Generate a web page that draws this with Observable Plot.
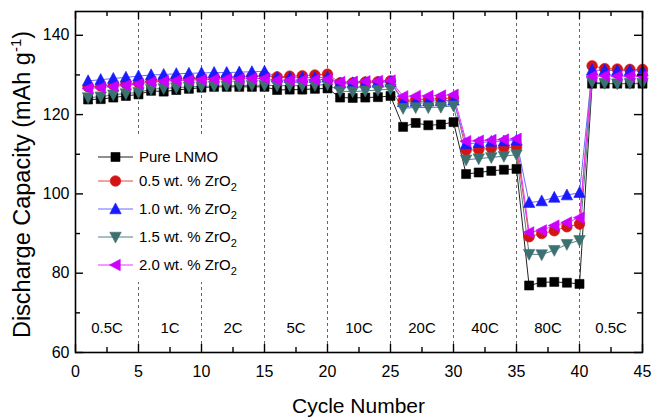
<!DOCTYPE html>
<html><head><meta charset="utf-8">
<script src="https://cdn.jsdelivr.net/npm/d3@7"></script>
<script src="https://cdn.jsdelivr.net/npm/@observablehq/plot@0.6"></script>
<style>body{margin:0;background:#fff}#chart svg{display:block}</style>
</head><body><div id="chart"></div>
<script>
// ---- data ----
const cycles = d3.range(1, 46);
const pureLNMO = [123.8,123.9,124.3,124.7,125.1, 126.0,125.8,126.2,126.5,126.8, 127.0,127.0,127.0,127.0,127.0, 126.2,126.3,126.3,126.5,126.6, 124.3,124.2,124.3,124.4,124.7, 116.9,117.9,117.3,117.5,118.1, 105.0,105.4,105.8,106.1,106.3, 76.9,77.7,77.8,77.6,77.3, 127.8,127.8,127.8,127.8,127.8];
const zr05 = [127.0,127.2,127.5,127.8,128.0, 128.5,128.8,129.0,129.0,129.2, 129.3,129.4,129.5,129.6,129.8, 129.5,129.7,129.8,130.0,130.2, 128.0,128.0,128.2,128.3,128.5, 123.5,123.8,123.9,124.0,124.2, 111.0,111.2,111.5,111.7,111.8, 89.2,90.0,90.7,91.7,92.4, 132.3,131.6,131.5,131.4,131.4];
const zr10 = [128.5,128.8,129.1,129.4,129.7, 130.0,130.1,130.3,130.4,130.5, 130.6,130.6,130.7,130.8,130.9, 129.4,129.3,129.3,129.3,129.4, 127.9,128.0,128.1,128.1,128.2, 123.2,123.3,123.4,123.5,123.6, 112.6,112.9,113.2,113.3,113.5, 97.8,98.2,99.1,99.7,100.3, 131.2,131.2,131.1,131.1,131.0];
const zr15 = [124.3,124.5,125.0,125.3,125.6, 126.4,126.6,126.8,127.0,127.1, 127.2,127.3,127.3,127.4,127.4, 127.3,127.3,127.3,127.4,127.6, 125.9,125.8,126.0,126.2,126.4, 121.6,121.8,121.8,121.9,122.2, 108.6,108.9,109.2,109.5,109.9, 84.8,84.7,85.8,87.3,88.3, 128.2,127.9,127.8,127.9,127.9];
const zr20 = [126.6,126.8,127.1,127.4,127.7, 128.2,128.4,128.6,128.7,128.8, 128.9,129.0,129.0,129.1,129.1, 128.7,128.7,128.7,128.8,128.9, 128.2,128.3,128.4,128.5,128.6, 124.6,124.7,124.7,124.8,125.0, 113.3,113.4,113.6,113.7,113.9, 90.3,90.8,92.0,92.8,94.0, 129.7,129.8,129.7,129.7,129.7];
const seriesLabels = ["Pure LNMO", "0.5 wt. % ZrO", "1.0 wt. % ZrO", "1.5 wt. % ZrO", "2.0 wt. % ZrO"];
const seriesSubs = ["", "2", "2", "2", "2"];
const rateLabels = ["0.5C","1C","2C","5C","10C","20C","40C","80C","0.5C"];
const rateBounds = [0,5,10,15,20,25,30,35,40,45];
const dividers = [5,10,15,20,25,30,35,40];
const xTicks = [0,5,10,15,20,25,30,35,40,45];
const xMinor = [2.5,7.5,12.5,17.5,22.5,27.5,32.5,37.5,42.5];
const yTicks = [60,80,100,120,140];
const yMinor = [70,90,110,130];

// ---- symbols ----
const symSquare = {draw(c,s){const r=Math.sqrt(s/Math.PI),h=0.85*r;c.moveTo(-h,-h);c.lineTo(h,-h);c.lineTo(h,h);c.lineTo(-h,h);c.closePath();}};
const symCircle = {draw(c,s){const r=Math.sqrt(s/Math.PI);c.moveTo(r,0);c.arc(0,0,r,0,2*Math.PI);}};
const symUp = {draw(c,s){const r=Math.sqrt(s/Math.PI);c.moveTo(0,-1.15*r);c.lineTo(1.08*r,0.9*r);c.lineTo(-1.08*r,0.9*r);c.closePath();}};
const symDown = {draw(c,s){const r=Math.sqrt(s/Math.PI);c.moveTo(0,1.15*r);c.lineTo(1.08*r,-0.9*r);c.lineTo(-1.08*r,-0.9*r);c.closePath();}};
const symLeft = {draw(c,s){const r=Math.sqrt(s/Math.PI);c.moveTo(-1.15*r,0);c.lineTo(0.9*r,-1.08*r);c.lineTo(0.9*r,1.08*r);c.closePath();}};

const series = [
  {vals: pureLNMO, fill:"#000000", line:"#222222", sym: symSquare},
  {vals: zr05, fill:"#d41414", line:"#e04848", sym: symCircle},
  {vals: zr10, fill:"#1a1aff", line:"#6a6aff", sym: symUp},
  {vals: zr15, fill:"#3d7171", line:"#4f8080", sym: symDown},
  {vals: zr20, fill:"#cc00ff", line:"#ee33ff", sym: symLeft}
];

const W = 654, H = 418, mL = 75, mR = 12, mT = 11, mB = 66;
const PW = W - mL - mR, PH = H - mT - mB;
const rateMid = rateLabels.map((t,i)=>({t, x:(rateBounds[i]+rateBounds[i+1])/2}));

const marks = [
  Plot.ruleX(dividers, {x: d=>d, stroke:"#666", strokeWidth:1, strokeDasharray:"3,3"}),
  Plot.text(rateMid, {x:"x", text:"t", frameAnchor:"bottom", dy:-20, fontSize:15, fill:"#000"})
];
series.forEach(s => {
  const rows = cycles.map((c,i)=>({cycle:c, v:s.vals[i]}));
  marks.push(Plot.line(rows, {x:"cycle", y:"v", stroke:s.line, strokeWidth:1}));
});
series.forEach(s => {
  const rows = cycles.map((c,i)=>({cycle:c, v:s.vals[i]}));
  marks.push(Plot.dot(rows, {x:"cycle", y:"v", symbol:s.sym, r:5.3, fill:s.fill, stroke:s.fill, strokeWidth:0.6}));
});
marks.push(
  Plot.tickX(xTicks, {x:d=>d, insetTop:PH-8, stroke:"#000", strokeWidth:1.4}),
  Plot.tickX(xMinor, {x:d=>d, insetTop:PH-5, stroke:"#000", strokeWidth:1.4}),
  Plot.tickX(xTicks, {x:d=>d, insetBottom:PH-8, stroke:"#000", strokeWidth:1.4}),
  Plot.tickX(xMinor, {x:d=>d, insetBottom:PH-5, stroke:"#000", strokeWidth:1.4}),
  Plot.tickY(yTicks, {y:d=>d, insetRight:PW-8, stroke:"#000", strokeWidth:1.4}),
  Plot.tickY(yMinor, {y:d=>d, insetRight:PW-5, stroke:"#000", strokeWidth:1.4}),
  Plot.tickY(yTicks, {y:d=>d, insetLeft:PW-8, stroke:"#000", strokeWidth:1.4}),
  Plot.tickY(yMinor, {y:d=>d, insetLeft:PW-5, stroke:"#000", strokeWidth:1.4}),
  Plot.axisX(xTicks, {tickSize:0, tickPadding:13, fontSize:16, label:null}),
  Plot.axisY(yTicks, {tickSize:0, tickPadding:6, fontSize:16, label:null}),
  Plot.frame({stroke:"#000", strokeWidth:1.6})
);

const plot = Plot.plot({
  width:W, height:H, marginLeft:mL, marginRight:mR, marginTop:mT, marginBottom:mB,
  x:{domain:[0,45]}, y:{domain:[60,146]},
  style:{fontFamily:"'Liberation Sans', Arial, sans-serif", fontSize:"16px", color:"#000", background:"#fff"},
  marks
});
document.getElementById("chart").appendChild(plot);

// ---- legend & titles ----
const svg = d3.select(plot);
const lg = svg.append("g").attr("font-family","'Liberation Sans', Arial, sans-serif");
lg.append("rect").attr("x",95).attr("y",136).attr("width",160).attr("height",146).attr("fill","#fff");
const rowsY = [157,181,209,237,265];
series.forEach((s,i)=>{
  const y = rowsY[i];
  lg.append("line").attr("x1",98).attr("x2",133).attr("y1",y).attr("y2",y).attr("stroke",s.line).attr("stroke-width",1.2);
  lg.append("path").attr("d", d3.symbol(s.sym, Math.PI*5.3*5.3)()).attr("transform",`translate(115.5,${y})`).attr("fill",s.fill).attr("stroke",s.fill).attr("stroke-width",0.6);
  const t = lg.append("text").attr("x",139).attr("y",y).attr("dy","0.36em").attr("text-anchor","start").attr("font-size",15).attr("fill","#000").text(seriesLabels[i]);
  if (seriesSubs[i]) t.append("tspan").attr("dy",5).attr("font-size",11).text(seriesSubs[i]);
});
svg.append("text").attr("x", mL + PW/2).attr("y", 413).attr("text-anchor","middle")
  .attr("font-family","'Liberation Sans', Arial, sans-serif").attr("font-size",21).attr("fill","#000").text("Cycle Number");
const yt = svg.append("text").attr("transform",`translate(30,${mT+PH/2+3}) rotate(-90)`).attr("text-anchor","middle")
  .attr("font-family","'Liberation Sans', Arial, sans-serif").attr("font-size",23.5).attr("fill","#000").text("Discharge Capacity (mAh g");
yt.append("tspan").attr("dy",-9).attr("font-size",15).text("-1");
yt.append("tspan").attr("dy",9).text(")");
</script></body></html>
